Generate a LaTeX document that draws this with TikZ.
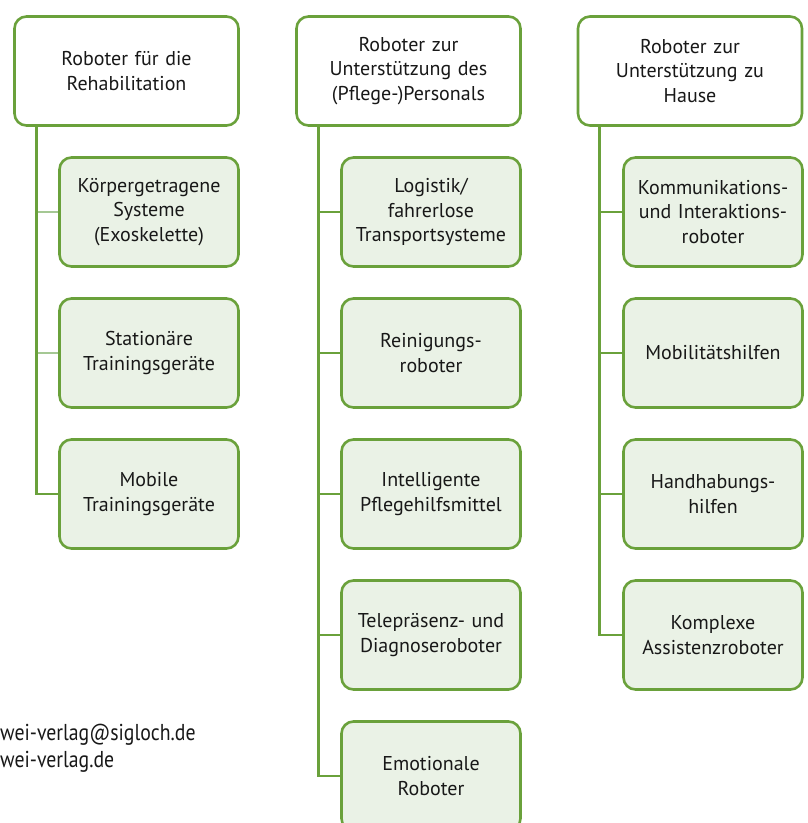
\documentclass[tikz,border=0pt]{standalone}
\usepackage{fontspec}
\setmainfont{PT Sans}
\definecolor{leaf}{RGB}{106,161,59}
\definecolor{leaffill}{RGB}{234,242,230}
\definecolor{leaflight}{RGB}{165,200,148}
\definecolor{ink}{RGB}{24,24,24}
\tikzset{headbox/.style={draw=leaf, line width=2.6pt, rounded corners=12pt, fill=white,
   minimum width=224pt, minimum height=109pt, text width=214pt, align=center,
   font=\fontsize{20}{24.5}\selectfont, text=ink, inner sep=0pt},
 subbox/.style={headbox, fill=leaffill, minimum width=179pt, text width=176pt},
 trunk/.style={draw=leaf, line width=2.6pt},
 twig/.style={draw=leaflight, line width=2.2pt},
 }

\begin{document}
\begin{tikzpicture}[x=1pt,y=-1pt]
        \useasboundingbox (0,0) rectangle (808,823);

        % Rehabilitation
        \node[headbox] (reha) at (126.5,71) {Roboter für die\\Rehabilitation};
        \node[subbox] (exo) at (149,212) {Körpergetragene\\Systeme\\(Exoskelette)};
        \node[subbox] (stat) at (149,353) {Stationäre\\Trainingsgeräte};
        \node[subbox] (mobil) at (149,494) {Mobile\\Trainingsgeräte};
        \coordinate (rehaT) at ([xshift=23pt]reha.south west);
        \draw[twig] (exo.west) -- (exo.west -| rehaT);
        \draw[twig] (stat.west) -- (stat.west -| rehaT);
        \draw[trunk] (rehaT) |- (mobil.west);

        % Pflege-Personal
        \node[headbox] (pflege) at (408.5,71) {Roboter zur\\Unterstützung des\\(Pflege-)Personals};
        \node[subbox] (logi) at (431,212) {Logistik/\\fahrerlose\\Transportsysteme};
        \node[subbox] (rein) at (431,353) {Reinigungs-\\roboter};
        \node[subbox] (intel) at (431,494) {Intelligente\\Pflegehilfsmittel};
        \node[subbox] (tele) at (431,635) {Telepräsenz- und\\Diagnoseroboter};
        \node[subbox] (emo) at (431,776) {Emotionale\\Roboter};
        \coordinate (pflegeT) at ([xshift=23pt]pflege.south west);
        \foreach \n in {logi, rein, intel, tele}
            \draw[trunk] (\n.west) -- (\n.west -| pflegeT);
        \draw[trunk] (pflegeT) |- (emo.west);

        % zu Hause
        \node[headbox] (haus) at (690,71) {Roboter zur\\Unterstützung zu\\Hause};
        \node[subbox] (komm) at (713,212) {Kommunikations-\\und Interaktions-\\roboter};
        \node[subbox] (mob) at (713,353) {Mobilitätshilfen};
        \node[subbox] (hand) at (713,494) {Handhabungs-\\hilfen};
        \node[subbox] (komplex) at (713,635) {Komplexe\\Assistenzroboter};
        \coordinate (hausT) at ([xshift=23pt]haus.south west);
        \foreach \n in {komm, mob, hand}
            \draw[trunk] (\n.west) -- (\n.west -| hausT);
        \draw[trunk] (hausT) |- (komplex.west);

        \node[anchor=base west, inner sep=0pt, text=ink, font=\fontsize{23}{27}\selectfont] (mail) at (0,740) {\scalebox{0.86}[1]{wei-verlag@sigloch.de}};
        \node[anchor=base west, inner sep=0pt, text=ink, font=\fontsize{23}{27}\selectfont] (web) at (0,767) {\scalebox{0.86}[1]{wei-verlag.de}};
    \end{tikzpicture}
\end{document}
